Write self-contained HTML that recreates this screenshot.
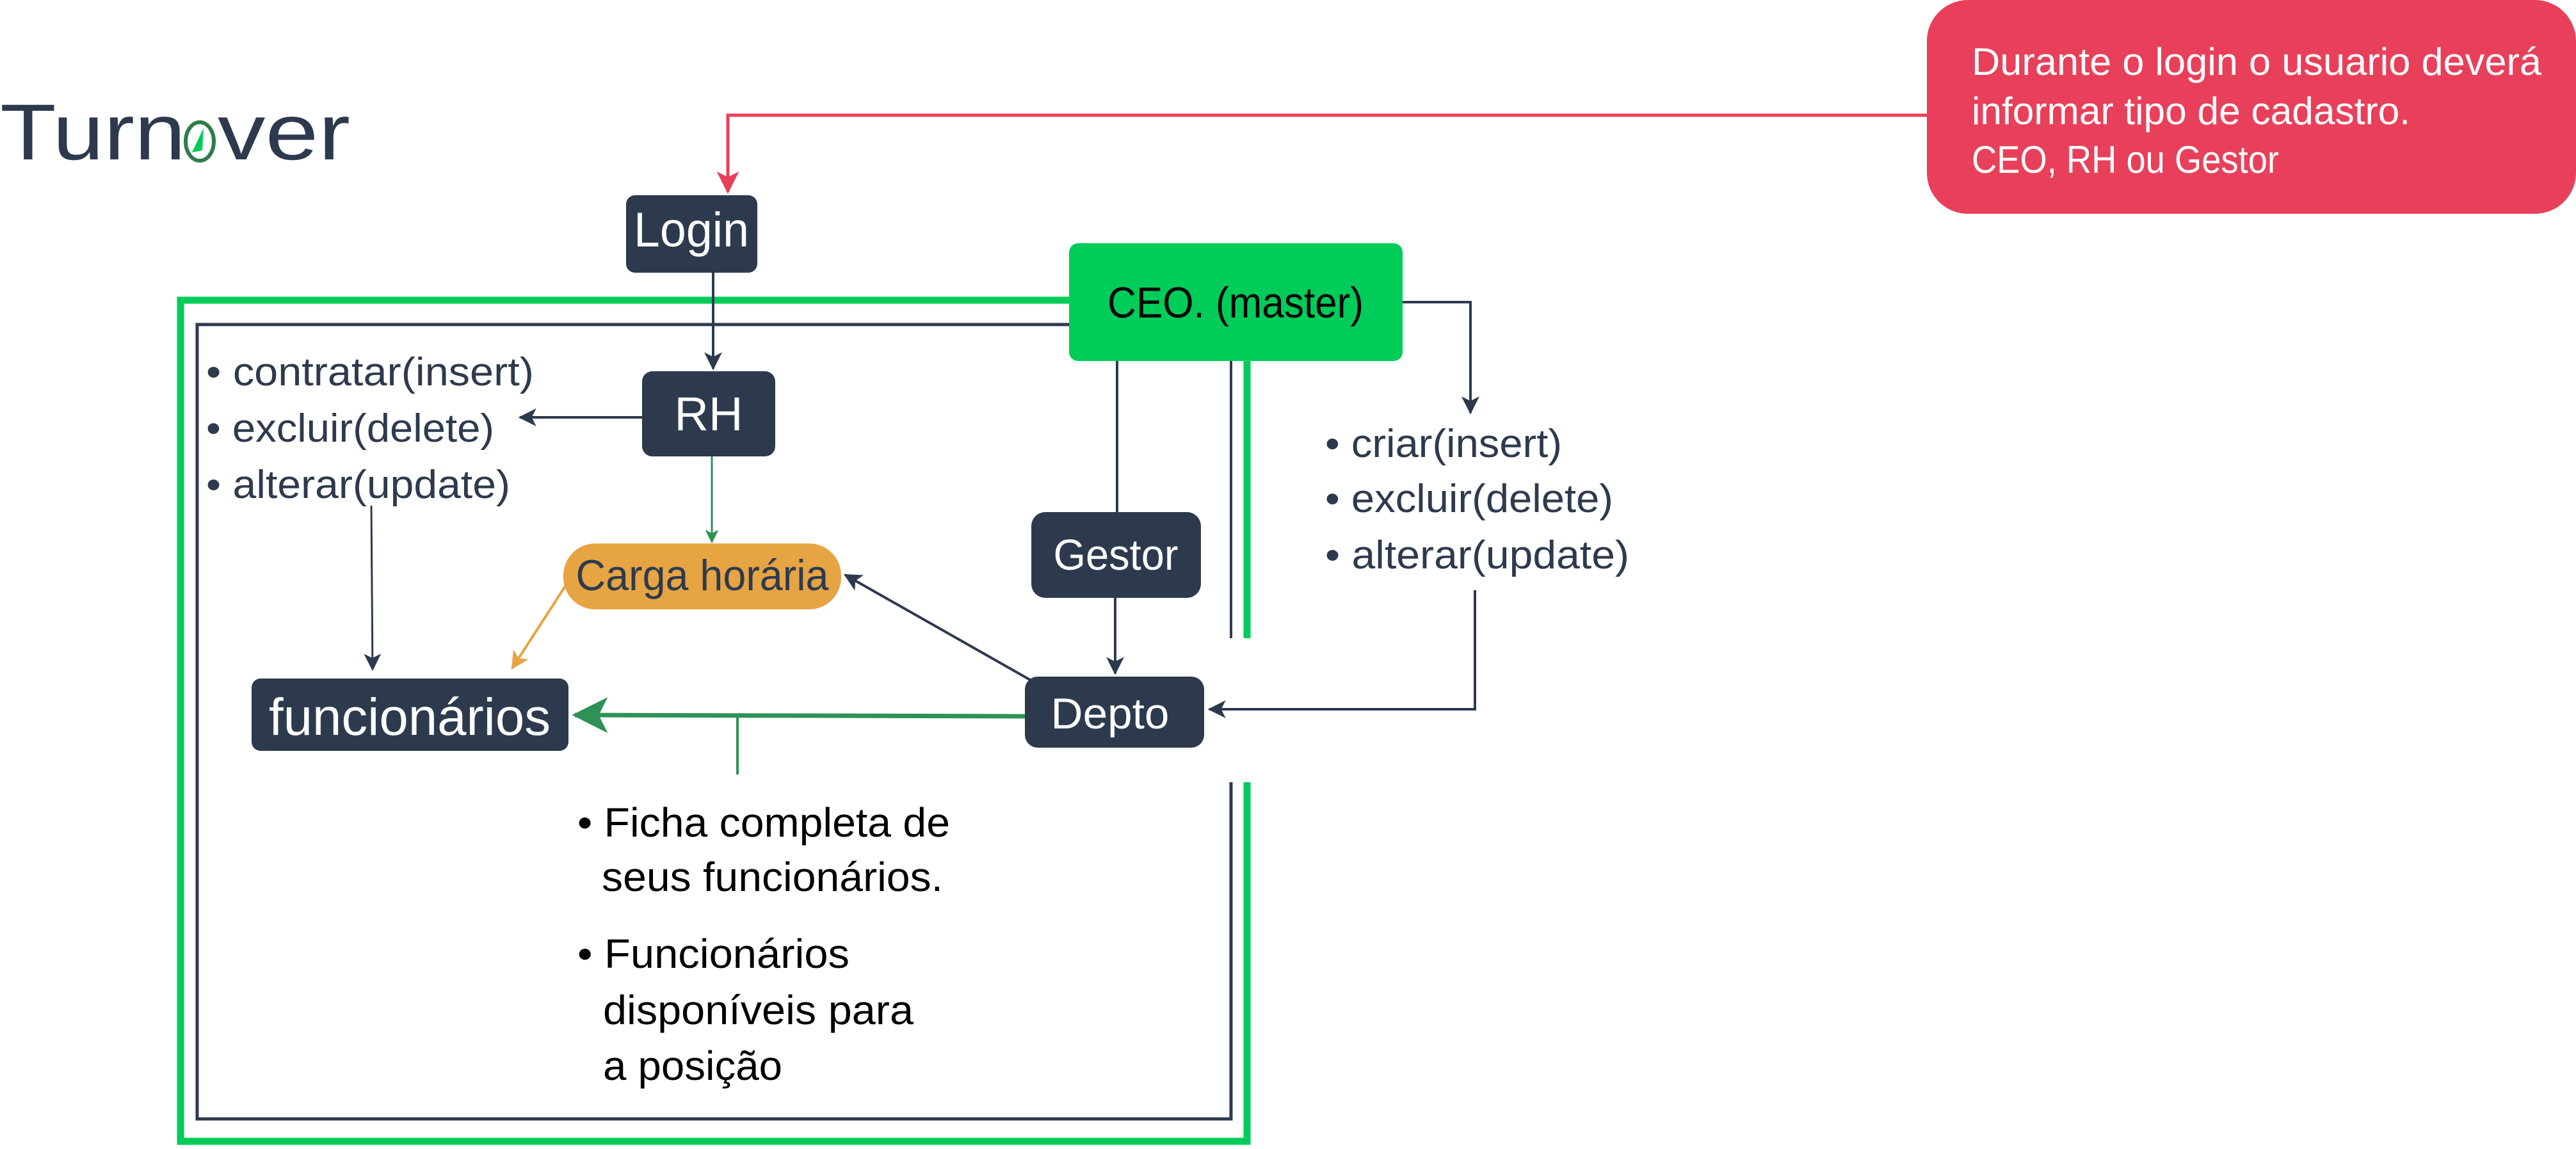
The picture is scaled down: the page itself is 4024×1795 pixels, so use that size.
<!DOCTYPE html>
<html><head><meta charset="utf-8"><style>
html,body{margin:0;padding:0;background:#fff;}
svg{display:block;}
text{font-family:"Liberation Sans",sans-serif;}
</style></head><body>
<svg width="4024" height="1795" viewBox="0 0 4024 1795" xmlns="http://www.w3.org/2000/svg">
<defs>
<marker id="an" viewBox="0 0 12 12" refX="11" refY="6" markerWidth="7" markerHeight="7" markerUnits="strokeWidth" orient="auto"><path d="M0,0 L12,6 L0,12 L3,6 z" fill="#2d3a4e"/></marker>
<marker id="an2" viewBox="0 0 12 12" refX="11" refY="6" markerWidth="9" markerHeight="9" markerUnits="strokeWidth" orient="auto"><path d="M0,0 L12,6 L0,12 L3,6 z" fill="#2d3a4e"/></marker>
<marker id="ar" viewBox="0 0 12 12" refX="11" refY="6" markerWidth="7" markerHeight="7" markerUnits="strokeWidth" orient="auto"><path d="M0,0 L12,6 L0,12 L3,6 z" fill="#e8405a"/></marker>
<marker id="ag" viewBox="0 0 12 12" refX="11" refY="6" markerWidth="8" markerHeight="8" markerUnits="strokeWidth" orient="auto"><path d="M0,0 L12,6 L0,12 L3,6 z" fill="#2e9158"/></marker>
<marker id="ag2" viewBox="0 0 12 12" refX="11" refY="6" markerWidth="7" markerHeight="7" markerUnits="strokeWidth" orient="auto"><path d="M0,0 L12,6 L0,12 L3,6 z" fill="#2e9158"/></marker>
<marker id="ao" viewBox="0 0 12 12" refX="11" refY="6" markerWidth="7" markerHeight="7" markerUnits="strokeWidth" orient="auto"><path d="M0,0 L12,6 L0,12 L3,6 z" fill="#e6a443"/></marker>
</defs>

<!-- Logo -->
<text x="0" y="249" font-size="124" fill="#2d3a4e" textLength="290" lengthAdjust="spacingAndGlyphs">Turn</text>
<ellipse cx="312" cy="221" rx="22" ry="30" fill="none" stroke="#2e7d4a" stroke-width="6"/>
<path d="M300,238 L318,200 L316,235 z" fill="#00cc5a"/>
<text x="340" y="249" font-size="124" fill="#2d3a4e" textLength="207" lengthAdjust="spacingAndGlyphs">ver</text>

<!-- Red note -->
<rect x="3010" y="0" width="1014" height="334" rx="64" fill="#e8405a"/>
<text font-size="60" fill="#fff">
<tspan x="3080" y="117" textLength="890" lengthAdjust="spacingAndGlyphs">Durante o login o usuario deverá</tspan>
<tspan x="3080" y="194" textLength="685" lengthAdjust="spacingAndGlyphs">informar tipo de cadastro.</tspan>
<tspan x="3080" y="270" textLength="480" lengthAdjust="spacingAndGlyphs">CEO, RH ou Gestor</tspan>
</text>
<path d="M3010,180 L1137,180 L1137,300" fill="none" stroke="#e8405a" stroke-width="5" marker-end="url(#ar)"/>

<!-- Frames -->
<path d="M1670,469 L282,469 L282,1783 L1948,1783 L1948,1222" fill="none" stroke="#00cc5a" stroke-width="11"/>
<path d="M1948,564 L1948,997" fill="none" stroke="#00cc5a" stroke-width="11"/>
<path d="M1670,507 L308,507 L308,1748 L1923,1748 L1923,1222" fill="none" stroke="#2d3a4e" stroke-width="5"/>
<path d="M1923,564 L1923,997" fill="none" stroke="#2d3a4e" stroke-width="4"/>

<!-- Login -->
<rect x="978" y="305" width="205" height="121" rx="14" fill="#2d3a4e"/>
<text x="1080" y="385" font-size="76" fill="#fff" text-anchor="middle" textLength="180" lengthAdjust="spacingAndGlyphs">Login</text>
<path d="M1114,426 L1114,576" stroke="#2d3a4e" stroke-width="4" fill="none" marker-end="url(#an)"/>

<!-- CEO -->
<rect x="1670" y="380" width="521" height="184" rx="14" fill="#00cc5a"/>
<text x="1930" y="496" font-size="68" fill="#000" text-anchor="middle" textLength="400" lengthAdjust="spacingAndGlyphs">CEO. (master)</text>
<path d="M2191,472 L2297,472 L2297,645" stroke="#2d3a4e" stroke-width="4" fill="none" marker-end="url(#an)"/>

<!-- criar list -->
<g font-size="62" fill="#2d3a4e">
<text x="2070" y="714" textLength="370" lengthAdjust="spacingAndGlyphs">• criar(insert)</text>
<text x="2070" y="800" textLength="450" lengthAdjust="spacingAndGlyphs">• excluir(delete)</text>
<text x="2070" y="888" textLength="475" lengthAdjust="spacingAndGlyphs">• alterar(update)</text>
</g>
<path d="M2304,922 L2304,1108 L1889,1108" stroke="#2d3a4e" stroke-width="4" fill="none" marker-end="url(#an)"/>

<!-- RH -->
<rect x="1003" y="580" width="208" height="133" rx="16" fill="#2d3a4e"/>
<text x="1107" y="672" font-size="74" fill="#fff" text-anchor="middle">RH</text>
<path d="M1003,652 L812,652" stroke="#2d3a4e" stroke-width="4" fill="none" marker-end="url(#an)"/>
<path d="M1112,713 L1112,847" stroke="#2e9158" stroke-width="3" fill="none" marker-end="url(#ag2)"/>

<!-- contratar list -->
<g font-size="62" fill="#2d3a4e">
<text x="322" y="602" textLength="512" lengthAdjust="spacingAndGlyphs">• contratar(insert)</text>
<text x="322" y="690" textLength="450" lengthAdjust="spacingAndGlyphs">• excluir(delete)</text>
<text x="322" y="778" textLength="475" lengthAdjust="spacingAndGlyphs">• alterar(update)</text>
</g>
<path d="M580,790 L582,1046" stroke="#2d3a4e" stroke-width="3" fill="none" marker-end="url(#an2)"/>

<!-- Carga horaria -->
<rect x="880" y="849" width="434" height="103" rx="50" fill="#e6a443"/>
<text x="1097" y="922" font-size="68" fill="#2d3a4e" text-anchor="middle" textLength="395" lengthAdjust="spacingAndGlyphs">Carga horária</text>
<path d="M886,911 L800,1044" stroke="#e6a443" stroke-width="4" fill="none" marker-end="url(#ao)"/>

<!-- funcionarios -->
<rect x="393" y="1060" width="495" height="113" rx="14" fill="#2d3a4e"/>
<text x="640" y="1148" font-size="82" fill="#fff" text-anchor="middle" textLength="440" lengthAdjust="spacingAndGlyphs">funcionários</text>

<!-- Gestor -->
<path d="M1745,564 L1745,800" stroke="#2d3a4e" stroke-width="4"/>
<rect x="1611" y="800" width="265" height="134" rx="22" fill="#2d3a4e"/>
<text x="1743" y="890" font-size="68" fill="#fff" text-anchor="middle" textLength="195" lengthAdjust="spacingAndGlyphs">Gestor</text>
<path d="M1742,934 L1742,1052" stroke="#2d3a4e" stroke-width="4" fill="none" marker-end="url(#an)"/>

<!-- Depto -->
<rect x="1601" y="1057" width="280" height="111" rx="20" fill="#2d3a4e"/>
<text x="1734" y="1138" font-size="68" fill="#fff" text-anchor="middle" textLength="185" lengthAdjust="spacingAndGlyphs">Depto</text>
<path d="M1609,1062 L1320,898" stroke="#2d3a4e" stroke-width="4" fill="none" marker-end="url(#an)"/>
<path d="M1601,1119 L898,1117" stroke="#2e9158" stroke-width="7" fill="none" marker-end="url(#ag)"/>
<path d="M1152,1117 L1152,1210" stroke="#2e9158" stroke-width="4"/>

<!-- bottom text -->
<g font-size="64" fill="#000">
<text x="902" y="1307" textLength="582" lengthAdjust="spacingAndGlyphs">• Ficha completa de</text>
<text x="940" y="1392" textLength="533" lengthAdjust="spacingAndGlyphs">seus funcionários.</text>
<text x="902" y="1512" textLength="425" lengthAdjust="spacingAndGlyphs">• Funcionários</text>
<text x="942" y="1600" textLength="485" lengthAdjust="spacingAndGlyphs">disponíveis para</text>
<text x="942" y="1687" textLength="280" lengthAdjust="spacingAndGlyphs">a posição</text>
</g>
</svg>
</body></html>
